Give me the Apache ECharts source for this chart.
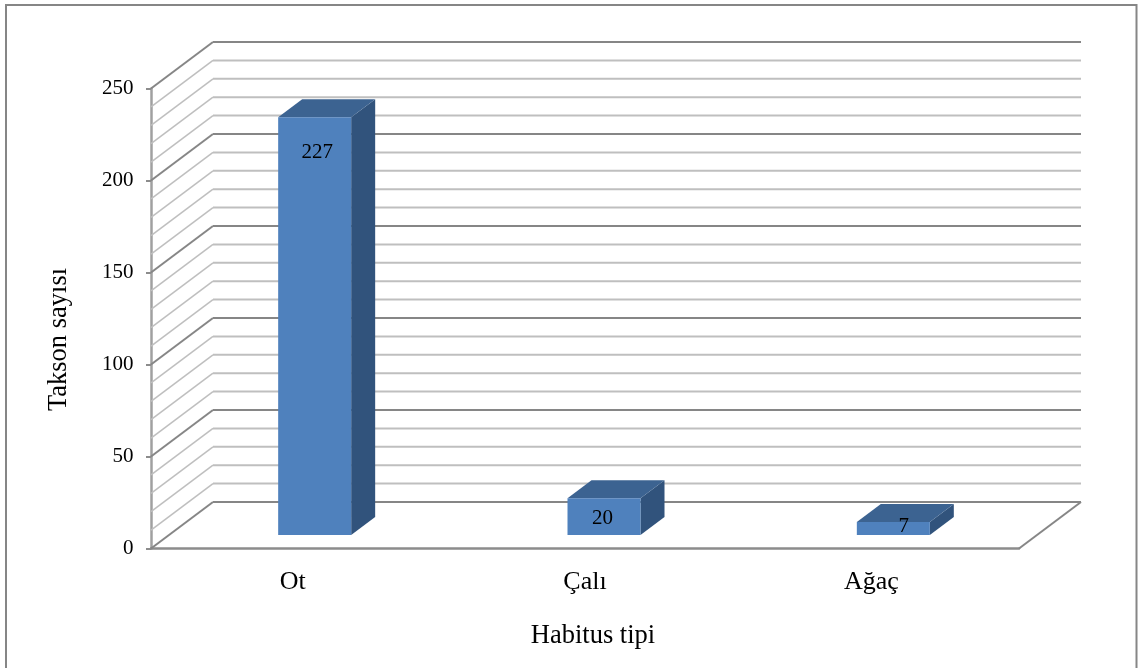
<!DOCTYPE html>
<html><head><meta charset="utf-8">
<style>html,body{margin:0;padding:0;background:#fff}#c{width:1142px;height:668px}</style>
<script src="https://cdn.jsdelivr.net/npm/echarts@6/dist/echarts.min.js"></script>
</head><body><div id="c"></div>
<script>
const categories = ['Ot', 'Çalı', 'Ağaç'];
const values = [227, 20, 7];
const gridValues = [0,10,20,30,40,50,60,70,80,90,100,110,120,130,140,150,160,170,180,190,200,210,220,230,240,250];
const yTicks = {min: 0, max: 250, interval: 50};
const xTitle = 'Habitus tipi';
const yTitle = 'Takson sayısı';

// projection of the pseudo-3D box
const WALL = {dx: 62, dy: -46.5};
const BAR = {halfW: 36.5, shiftX: 19, shiftY: -13.5, depthX: 24, depthY: -18};
const labelNudge = [[2.5, 35], [-1.5, 20], [10.5, 4]];
const C = {front: '#4F81BD', top: '#3C6391', side: '#31537C', major: '#868686', minor: '#BFBFBF'};
const FONT = '"Liberation Serif","Times New Roman",serif';

const chart = echarts.init(document.getElementById('c'), null, {renderer: 'canvas'});

function renderGrid(params, api) {
  const v = api.value(1);
  const cs = params.coordSys;
  const y = api.coord([0, v])[1];
  const isMajor = v % 50 === 0;
  const stroke = isMajor ? C.major : C.minor;
  const x0 = cs.x, x1 = cs.x + WALL.dx, x2 = cs.x + cs.width + WALL.dx;
  const yb = y + WALL.dy;
  const children = [
    {type: 'line', shape: {x1: x0, y1: y, x2: x1, y2: yb}, style: {stroke, lineWidth: isMajor ? 2 : 1.5}},
    {type: 'line', shape: {x1: x1, y1: yb, x2: x2, y2: yb}, style: {stroke, lineWidth: 2}}
  ];
  if (v === 0) children.push({type: 'line', shape: {x1: cs.x + cs.width, y1: y, x2: x2, y2: yb}, style: {stroke, lineWidth: 2}});
  return {type: 'group', silent: true, children};
}

function renderBar(params, api) {
  const i = api.value(0), v = api.value(1);
  const top = api.coord([i, v]), base = api.coord([i, 0]);
  const l = top[0] + BAR.shiftX - BAR.halfW, r = top[0] + BAR.shiftX + BAR.halfW;
  const t = top[1] + BAR.shiftY, b = base[1] + BAR.shiftY;
  const dx = BAR.depthX, dy = BAR.depthY;
  const n = labelNudge[i];
  return {type: 'group', children: [
    {type: 'polygon', shape: {points: [[r, t], [r + dx, t + dy], [r + dx, b + dy], [r, b]]}, style: {fill: C.side}},
    {type: 'polygon', shape: {points: [[l, t], [l + dx, t + dy], [r + dx, t + dy], [r, t]]}, style: {fill: C.top}},
    {type: 'rect', shape: {x: l, y: t, width: r - l, height: b - t}, style: {fill: C.front}},
    {type: 'text', style: {text: String(v), x: (l + r) / 2 + n[0], y: t + n[1], align: 'center', verticalAlign: 'middle', fill: '#000', font: '21px ' + FONT}}
  ]};
}

const catStyle = {fontFamily: FONT, fontSize: 26, color: '#000'};

chart.setOption({
  animation: false,
  backgroundColor: '#fff',
  graphic: [{type: 'rect', silent: true, z: 0, shape: {x: 6, y: 5, width: 1130.5, height: 720}, style: {fill: null, stroke: '#868686', lineWidth: 2}}],
  grid: {left: 151, right: 123, top: 88.5, bottom: 119.5, containLabel: false},
  xAxis: {
    type: 'category', data: categories,
    name: xTitle, nameLocation: 'middle', nameGap: 74,
    nameTextStyle: {fontFamily: FONT, fontSize: 26.5, color: '#000', padding: [0, 0, 0, 16]},
    axisLine: {lineStyle: {color: '#8C8C8C', width: 2.5}},
    axisTick: {show: false},
    axisLabel: {
      margin: 21,
      formatter: (value, index) => index === 1 ? '{c|' + value + '}' : '{s|' + value + '}',
      rich: {c: catStyle, s: Object.assign({padding: [0, 6, 0, 0]}, catStyle)}
    },
    splitLine: {show: false}
  },
  yAxis: {
    type: 'value', min: yTicks.min, max: yTicks.max, interval: yTicks.interval,
    name: yTitle, nameLocation: 'middle', nameGap: 78, nameRotate: 90,
    nameTextStyle: {fontFamily: FONT, fontSize: 26.5, color: '#000', padding: [0, 42, 0, 0]},
    axisLine: {show: true, lineStyle: {color: '#A0A0A0', width: 2.5}},
    axisTick: {show: true, length: 5, lineStyle: {color: '#8C8C8C', width: 2}},
    axisLabel: {fontFamily: FONT, fontSize: 21, color: '#000', margin: 17.5, padding: [2, 0, 0, 0]},
    splitLine: {show: false}
  },
  series: [
    {type: 'custom', z: 1, renderItem: renderGrid, encode: {x: 0, y: 1}, data: gridValues.map(v => [0, v]), silent: true, clip: false},
    {type: 'custom', z: 3, renderItem: renderBar, encode: {x: 0, y: 1}, data: values.map((v, i) => [i, v]), clip: false}
  ]
});
</script></body></html>
